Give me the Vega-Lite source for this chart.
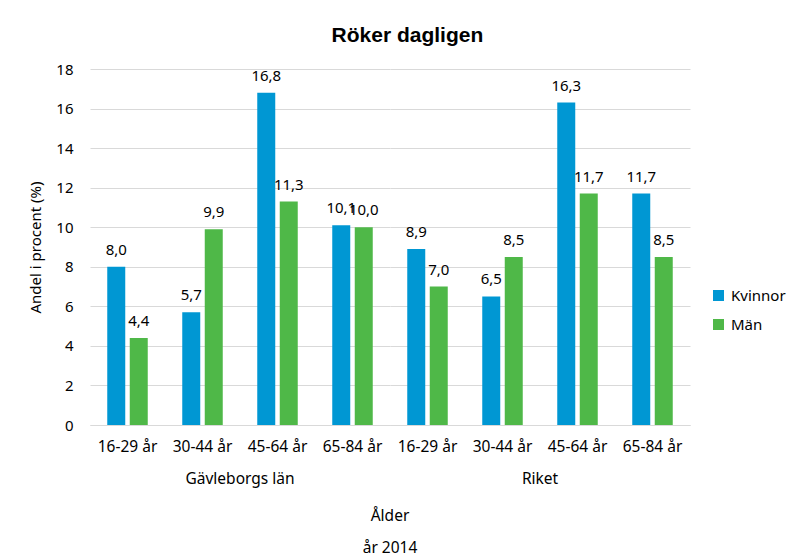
{
  "$schema": "https://vega.github.io/schema/vega-lite/v6.json",
  "padding": {"left": 28, "top": 25, "right": 0, "bottom": 0},
  "background": "white",
  "title": {"text": "Röker dagligen", "font": "Liberation Sans", "fontSize": 21, "fontWeight": "bold", "color": "#000000", "anchor": "middle", "offset": 16},
  "data": {"values": [
    {"region": "Gävleborgs län", "age": "16-29 år", "gender": "Kvinnor", "value": 8.0},
    {"region": "Gävleborgs län", "age": "16-29 år", "gender": "Män", "value": 4.4},
    {"region": "Gävleborgs län", "age": "30-44 år", "gender": "Kvinnor", "value": 5.7},
    {"region": "Gävleborgs län", "age": "30-44 år", "gender": "Män", "value": 9.9},
    {"region": "Gävleborgs län", "age": "45-64 år", "gender": "Kvinnor", "value": 16.8},
    {"region": "Gävleborgs län", "age": "45-64 år", "gender": "Män", "value": 11.3},
    {"region": "Gävleborgs län", "age": "65-84 år", "gender": "Kvinnor", "value": 10.1},
    {"region": "Gävleborgs län", "age": "65-84 år", "gender": "Män", "value": 10.0},
    {"region": "Riket", "age": "16-29 år", "gender": "Kvinnor", "value": 8.9},
    {"region": "Riket", "age": "16-29 år", "gender": "Män", "value": 7.0},
    {"region": "Riket", "age": "30-44 år", "gender": "Kvinnor", "value": 6.5},
    {"region": "Riket", "age": "30-44 år", "gender": "Män", "value": 8.5},
    {"region": "Riket", "age": "45-64 år", "gender": "Kvinnor", "value": 16.3},
    {"region": "Riket", "age": "45-64 år", "gender": "Män", "value": 11.7},
    {"region": "Riket", "age": "65-84 år", "gender": "Kvinnor", "value": 11.7},
    {"region": "Riket", "age": "65-84 år", "gender": "Män", "value": 8.5}
  ]},
  "facet": {
    "column": {
      "field": "region", "type": "nominal", "sort": ["Gävleborgs län", "Riket"],
      "header": {
        "labelOrient": "bottom", "titleOrient": "bottom",
        "title": ["Ålder", "år 2014"],
        "labelFont": "Noto Sans", "labelFontSize": 15.5, "labelColor": "#000000", "labelPadding": 17,
        "titleFont": "Noto Sans", "titleFontSize": 15.5, "titleColor": "#000000", "titleFontWeight": "normal",
        "titleLineHeight": 32, "titlePadding": 12
      }
    }
  },
  "spacing": 0,
  "spec": {
    "width": 300,
    "height": 356,
    "encoding": {
      "x": {"field": "age", "type": "nominal", "title": null,
        "scale": {"paddingInner": 0.46, "paddingOuter": 0.23},
        "axis": {"labelAngle": 0, "labelFont": "Noto Sans", "labelFontSize": 15.5, "labelColor": "#000000", "ticks": false, "domainColor": "#d9d9d9", "labelPadding": 14}},
      "xOffset": {"field": "gender", "type": "nominal", "scale": {"paddingInner": 0.2}},
      "y": {"field": "value", "type": "quantitative", "title": "Andel i procent (%)",
        "scale": {"domain": [0, 18]},
        "axis": {"values": [0, 2, 4, 6, 8, 10, 12, 14, 16, 18], "format": "d", "domain": false, "ticks": false, "gridColor": "#d9d9d9",
          "labelFont": "Noto Sans", "labelFontSize": 15, "labelColor": "#000000", "labelPadding": 17,
          "titleFont": "Noto Sans", "titleFontSize": 15, "titleFontWeight": "normal", "titleColor": "#000000", "titlePadding": 12}}
    },
    "layer": [
      {"mark": {"type": "bar"},
       "encoding": {
         "color": {"field": "gender", "type": "nominal", "title": null,
           "scale": {"domain": ["Kvinnor", "Män"], "range": ["#0097d3", "#4fb848"]},
           "legend": {"orient": "none", "legendX": 621, "legendY": 219, "symbolType": "square", "symbolSize": 121, "symbolStrokeWidth": 0, "labelOffset": 5,
             "labelFont": "Noto Sans", "labelFontSize": 15, "labelColor": "#000000", "rowPadding": 13}}
       }},
      {"mark": {"type": "text", "dy": -17, "font": "Noto Sans", "fontSize": 15, "color": "#000000"},
       "encoding": {"text": {"field": "value", "type": "quantitative", "format": ".1f"}}}
    ]
  },
  "config": {
    "view": {"stroke": null},
    "locale": {"number": {"decimal": ",", "thousands": " ", "grouping": [3], "currency": ["", " kr"]}}
  }
}
